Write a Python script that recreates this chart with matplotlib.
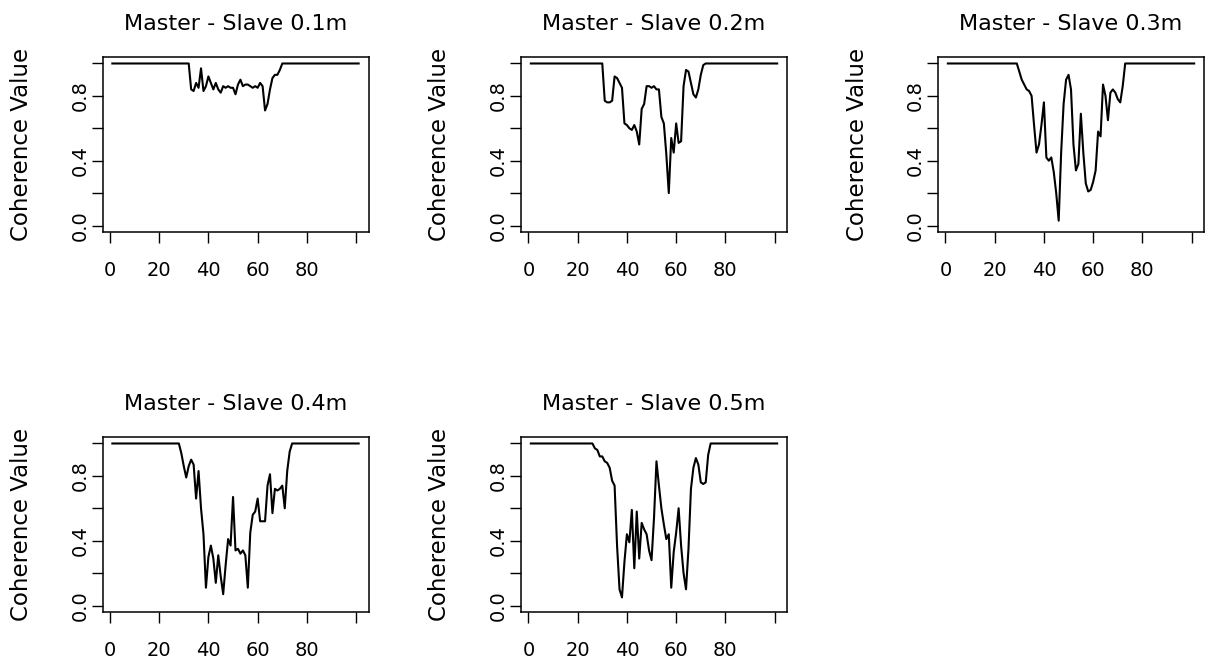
import matplotlib
matplotlib.use("Agg")
import matplotlib.pyplot as plt
import numpy as np

plt.rcParams['font.family'] = ['DejaVu Sans']

# coherence between master and slave sensors, one series per separation
titles = ['Master - Slave 0.1m', 'Master - Slave 0.2m', 'Master - Slave 0.3m',
          'Master - Slave 0.4m', 'Master - Slave 0.5m']

coh_01 = [1.0] * 32 + [
    0.84, 0.83, 0.88, 0.85, 0.97, 0.83, 0.86, 0.92, 0.88, 0.84,
    0.88, 0.84, 0.82, 0.86, 0.85, 0.86, 0.85, 0.85, 0.81, 0.87,
    0.90, 0.86, 0.87, 0.87, 0.86, 0.85, 0.86, 0.85, 0.88, 0.86,
    0.71, 0.75, 0.84, 0.91, 0.93, 0.93, 0.96] + [1.0] * 32

coh_02 = [1.0] * 30 + [
    0.77, 0.76, 0.76, 0.77, 0.92, 0.91, 0.88, 0.85, 0.63, 0.62,
    0.60, 0.59, 0.62, 0.58, 0.50, 0.72, 0.75, 0.86, 0.86, 0.85,
    0.86, 0.84, 0.84, 0.67, 0.63, 0.44, 0.20, 0.54, 0.45, 0.63,
    0.51, 0.52, 0.86, 0.96, 0.95, 0.88, 0.81, 0.79, 0.84, 0.93,
    0.99] + [1.0] * 30

coh_03 = [1.0] * 29 + [
    0.95, 0.90, 0.87, 0.84, 0.83, 0.80, 0.62, 0.45, 0.50, 0.62,
    0.76, 0.42, 0.40, 0.42, 0.33, 0.20, 0.03, 0.45, 0.75, 0.90,
    0.93, 0.84, 0.50, 0.34, 0.38, 0.69, 0.45, 0.26, 0.21, 0.22,
    0.27, 0.34, 0.58, 0.55, 0.87, 0.80, 0.65, 0.82, 0.84, 0.82,
    0.78, 0.76, 0.86] + [1.0] * 29

coh_04 = [1.0] * 28 + [
    0.94, 0.86, 0.79, 0.86, 0.90, 0.87, 0.66, 0.83, 0.60, 0.44,
    0.11, 0.30, 0.37, 0.29, 0.14, 0.31, 0.18, 0.07, 0.25, 0.41,
    0.37, 0.67, 0.34, 0.35, 0.32, 0.34, 0.31, 0.11, 0.45, 0.56,
    0.58, 0.66, 0.52, 0.52, 0.52, 0.74, 0.81, 0.57, 0.72, 0.71,
    0.72, 0.74, 0.60, 0.83, 0.95] + [1.0] * 28

coh_05 = [1.0] * 26 + [
    0.97, 0.96, 0.92, 0.92, 0.89, 0.88, 0.85, 0.77, 0.74, 0.37,
    0.10, 0.05, 0.27, 0.44, 0.39, 0.59, 0.23, 0.58, 0.29, 0.51,
    0.47, 0.44, 0.34, 0.28, 0.54, 0.89, 0.74, 0.60, 0.50, 0.41,
    0.44, 0.11, 0.33, 0.45, 0.60, 0.37, 0.20, 0.10, 0.35, 0.72,
    0.85, 0.91, 0.87, 0.76, 0.75, 0.76, 0.93] + [1.0] * 28

series = [coh_01, coh_02, coh_03, coh_04, coh_05]

xticks = [0, 20, 40, 60, 80, 100]
xticklabels = ['0', '20', '40', '60', '80', '']
yticks = [0.0, 0.2, 0.4, 0.6, 0.8, 1.0]
yticklabels = ['0.0', '', '0.4', '', '0.8', '']

W, H = 1208, 663
fig = plt.figure(figsize=(W / 100, H / 100), dpi=100)

# panel boxes in pixels: left, top
lefts = [102.5, 521, 938, 102.5, 521]
tops = [57, 57, 57, 437, 437]
box_w, box_h = 266, 175

for vals, title, left, top in zip(series, titles, lefts, tops):
    ax = fig.add_axes([left / W, (H - top - box_h) / H, box_w / W, box_h / H])
    x = np.arange(1, len(vals) + 1)
    ax.plot(x, vals, color='black', lw=1.5)
    ax.set_xlim(-3, 105)
    ax.set_ylim(-0.04, 1.04)
    ax.set_xticks(xticks)
    ax.set_xticklabels(xticklabels)
    ax.set_yticks(yticks)
    ax.set_yticklabels(yticklabels, rotation=90, va='center')
    ax.tick_params(axis='both', direction='out', length=8, width=1,
                   labelsize=14, colors='black')
    ax.tick_params(axis='x', pad=13)
    ax.tick_params(axis='y', pad=1.5)
    for sp in ax.spines.values():
        sp.set_linewidth(1.1)
    fig.text((left + box_w / 2) / W, (H - top + 27) / H, title,
             ha='center', va='baseline', fontsize=16)
    fig.text((left - 81) / W, (H - top - box_h / 2) / H, 'Coherence Value',
             ha='center', va='center', rotation=90, fontsize=16.5)

fig.savefig('out.png', dpi=100)
